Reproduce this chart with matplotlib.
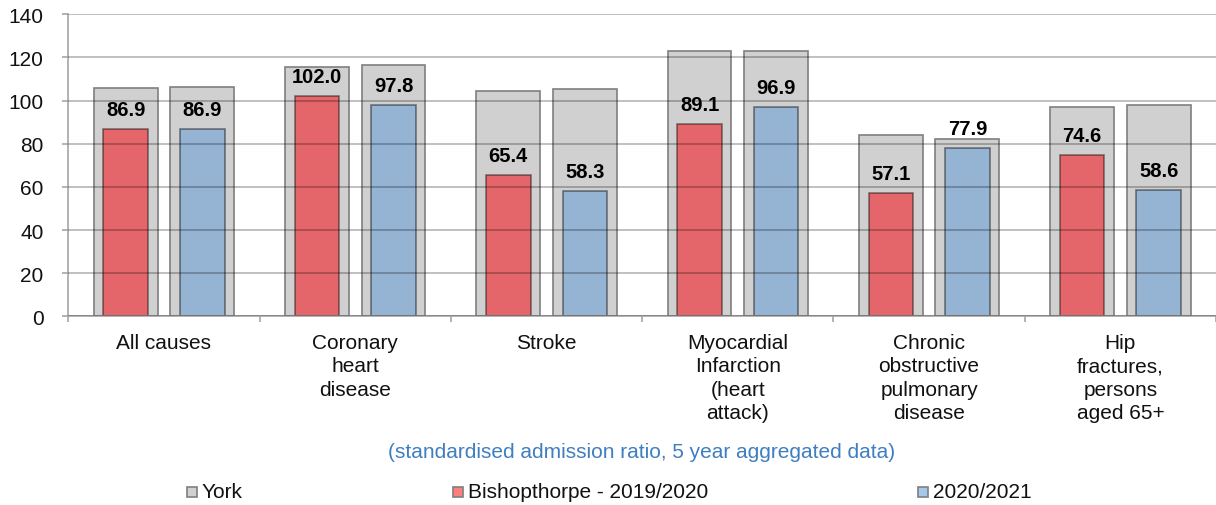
import matplotlib
matplotlib.use('Agg')
import matplotlib.pyplot as plt
from matplotlib.patches import Rectangle
import numpy as np

plt.rcParams['font.family'] = ['Liberation Sans', 'DejaVu Sans']

# Admission ratios per cause
categories = ['All causes', 'Coronary\nheart\ndisease', 'Stroke',
              'Myocardial\nInfarction\n(heart\nattack)',
              'Chronic\nobstructive\npulmonary\ndisease',
              'Hip\nfractures,\npersons\naged 65+']
york_2019 = [105.8, 115.4, 104.3, 122.9, 84.1, 96.9]
york_2020 = [106.2, 116.5, 105.4, 122.9, 82.4, 98.1]
bishop_2019 = [86.9, 102.0, 65.4, 89.1, 57.1, 74.6]
bishop_2020 = [86.9, 97.8, 58.3, 96.9, 77.9, 58.6]
legend_labels = ['York', 'Bishopthorpe - 2019/2020', '2020/2021']

GREY = '#d0d0d0'
RED = '#e5666a'
BLUE = '#95b3d3'
TXT = '#111111'
FS = 15

fig = plt.figure(figsize=(12.16, 5.06), dpi=100)
ax = fig.add_axes([0.0562, 0.3729, 0.9438, 0.5969])

x = np.arange(len(categories))
outer_w = 0.334
inner_w = 0.233
off = 0.2

ax.bar(x - off, york_2019, outer_w, color=GREY, edgecolor='#7f7f7f', linewidth=1.2, zorder=1)
ax.bar(x + off, york_2020, outer_w, color=GREY, edgecolor='#7f7f7f', linewidth=1.2, zorder=1)
b1 = ax.bar(x - off, bishop_2019, inner_w, color=RED, edgecolor=(0, 0, 0, 0.45), linewidth=1.2, zorder=2)
b2 = ax.bar(x + off, bishop_2020, inner_w, color=BLUE, edgecolor=(0, 0, 0, 0.45), linewidth=1.2, zorder=2)

for bars, vals in ((b1, bishop_2019), (b2, bishop_2020)):
    for rect, v in zip(bars, vals):
        ax.annotate(f'{v:.1f}', (rect.get_x() + rect.get_width() / 2, v),
                    xytext=(0, 14), textcoords='offset pixels',
                    ha='center', va='baseline', fontsize=14.5, fontweight='bold',
                    color='black', zorder=6)

ax.set_ylim(0, 140)
ax.set_xlim(-0.5, 5.49)
ax.set_yticks(np.arange(0, 141, 20))
ax.tick_params(axis='y', length=4.3, width=1.2, color='#a6a6a6', labelsize=FS,
               labelcolor=TXT, pad=13.5)

# category labels at centres, separators between groups
ax.set_xticks(x)
ax.set_xticklabels(categories, fontsize=FS, color=TXT, linespacing=1.3)
ax.tick_params(axis='x', which='major', length=0, pad=12)
ax.set_xticks(np.arange(-0.5, 6, 1), minor=True)
ax.tick_params(axis='x', which='minor', length=4.3, width=1.2, color='#a6a6a6', direction='out')

ax.set_axisbelow(False)
ax.yaxis.grid(True, color='black', alpha=0.25, linewidth=1.4)
for s in ('top', 'right'):
    ax.spines[s].set_visible(False)
for s in ('left', 'bottom'):
    ax.spines[s].set_color('#a6a6a6')
    ax.spines[s].set_linewidth(1.2)

fig.text(0.5278, 1 - 453 / 506, '(standardised admission ratio, 5 year aggregated data)',
         ha='center', va='center', fontsize=FS, color='#3f7fc0')

# legend row
leg_y = 1 - 492.5 / 506
leg_x = [186.5, 453, 918]
for px, lab, col in zip(leg_x, legend_labels, [GREY, '#ff7f7f', '#a6c8ec']):
    fig.patches.append(Rectangle((px / 1216, leg_y - 5 / 506), 10 / 1216, 10 / 506,
                                 transform=fig.transFigure, facecolor=col,
                                 edgecolor='#7f7f7f', linewidth=1.2))
    fig.text((px + 15) / 1216, leg_y, lab, ha='left', va='center', fontsize=FS, color=TXT)

fig.savefig('out.png', dpi=100)
